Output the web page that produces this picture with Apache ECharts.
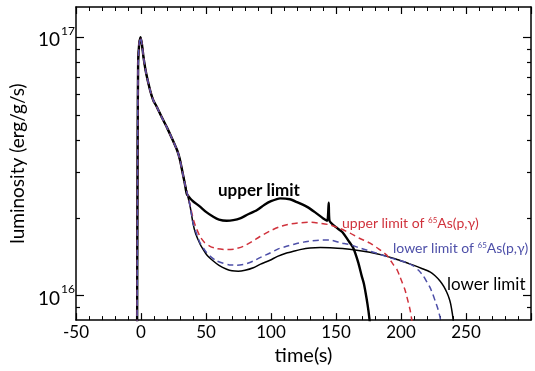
<!DOCTYPE html>
<html>
<head>
<meta charset="utf-8">
<script src="https://cdn.jsdelivr.net/npm/echarts@6/dist/echarts.min.js"></script>
<style>html,body{margin:0;padding:0;background:#fff}#c{width:535px;height:371px}</style>
</head>
<body>
<div id="c"></div>
<script>
// luminosity values in units of 1e16 erg/g/s
const commonT = [-3.0, -2.6, -2.2, -1.3, -0.3, 0.8, 2, 4, 7, 9.5, 12, 16, 20, 24.8, 28, 30, 32, 33.8];
const commonL = [0.70, 3.98, 7.94, 9.55, 10.0, 9.33, 8.32, 7.24, 6.24, 5.69, 5.40, 4.90, 4.47, 3.96, 3.63, 3.35, 2.99, 2.70];

const upperT = [35.2, 38, 40, 45.4, 50, 55.6, 60, 65.9, 71, 76.2, 82, 89, 95, 100, 107, 114.6, 120, 127.4, 134, 140.2, 143.3, 144.4, 145.0, 150, 155, 160, 163.3, 167.2, 169.8, 171.5, 173.5, 175, 176.2];
const upperL = [2.48, 2.37, 2.32, 2.21, 2.11, 2.02, 1.97, 1.95, 1.96, 1.99, 2.06, 2.14, 2.25, 2.32, 2.38, 2.36, 2.30, 2.21, 2.10, 1.99, 1.95, 2.29, 1.95, 1.84, 1.76, 1.62, 1.53, 1.34, 1.19, 1.11, 0.977, 0.871, 0.776];

const lowerT = [36, 38, 40, 42, 45.4, 47.9, 51, 55.6, 60, 65.9, 70, 74.8, 80, 86.4, 92, 99.2, 105, 112, 118, 122.3, 130, 138, 145.4, 155, 165.9, 176, 186, 196, 204.4, 210, 216, 222.3, 226, 230, 233, 235.2, 237, 238.2, 239.5, 240.5];
const lowerL = [2.427, 2.188, 1.905, 1.738, 1.585, 1.507, 1.429, 1.361, 1.309, 1.265, 1.247, 1.242, 1.253, 1.282, 1.324, 1.371, 1.419, 1.462, 1.489, 1.507, 1.528, 1.535, 1.531, 1.521, 1.500, 1.472, 1.435, 1.387, 1.340, 1.309, 1.274, 1.236, 1.197, 1.140, 1.084, 1.030, 0.977, 0.929, 0.851, 0.776];

const redT = [36, 38, 40, 42, 45.4, 49, 53.1, 58, 65.9, 72, 78.7, 85, 91.5, 99, 106.9, 114.6, 122.3, 130, 138, 145.4, 153, 160.8, 168, 176.2, 183, 189, 194.1, 197, 199.2, 201, 203.1, 205.6, 207, 208.5];
const redL = [2.443, 2.213, 1.995, 1.854, 1.694, 1.603, 1.552, 1.521, 1.507, 1.514, 1.552, 1.614, 1.694, 1.778, 1.849, 1.892, 1.914, 1.923, 1.905, 1.879, 1.820, 1.746, 1.667, 1.596, 1.514, 1.435, 1.318, 1.259, 1.183, 1.122, 1.052, 0.942, 0.881, 0.794];

const blueT = [36, 38, 40, 42, 45.4, 49.2, 53.1, 58, 63.3, 68, 73.6, 80, 86.4, 92.8, 99.2, 105.6, 112, 118.5, 125, 131.3, 138, 145.4, 153, 160.8, 168, 176.2, 184, 191.5, 199.2, 204.4, 209.5, 213.5, 217.2, 220, 222.3, 224.5, 226.2, 228.3, 230, 231];
const blueL = [2.443, 2.203, 1.914, 1.778, 1.600, 1.496, 1.422, 1.365, 1.334, 1.315, 1.312, 1.324, 1.361, 1.413, 1.462, 1.517, 1.552, 1.585, 1.611, 1.629, 1.641, 1.641, 1.603, 1.574, 1.531, 1.486, 1.445, 1.400, 1.368, 1.343, 1.303, 1.253, 1.191, 1.127, 1.076, 1.012, 0.957, 0.891, 0.826, 0.776];

const xTicks = [-50, 0, 50, 100, 150, 200, 250];
const yMajor = [1e16, 1e17];
const yMinor = [9e15, 2e16, 3e16, 4e16, 5e16, 6e16, 7e16, 8e16, 9e16];
const yMinVal = 8.04e15, yMaxVal = 1.31e17;

const seriesNames = ['upper limit', 'lower limit', 'upper limit of 65As(p,γ)', 'lower limit of 65As(p,γ)'];

const FONT = 'Lato';
const RED = '#d0323c', BLUE = '#4d4fa8';
const lg = v => Math.log10(v);
function build(ts, ls) {
  const t = commonT.concat(ts), l = commonL.concat(ls);
  return t.map((x, i) => [x, lg(l[i] * 1e16)]);
}

const chart = echarts.init(document.getElementById('c'), null, {renderer: 'canvas'});
const yMin = lg(yMinVal), yMax = lg(yMaxVal);
const majorVals = yMajor.map(lg), minorVals = yMinor.map(lg);

function xAx(pos, labels) {
  return {
    type: 'value', position: pos, min: -50, max: 300, interval: 50,
    axisLine: {show: true, onZero: false, lineStyle: {color: '#000', width: 1.5}},
    axisTick: {show: true, inside: true, length: 7, lineStyle: {color: '#000', width: 1.2}},
    minorTick: {show: true, splitNumber: 5, length: 4, lineStyle: {color: '#000', width: 1}},
    splitLine: {show: false}, minorSplitLine: {show: false},
    axisLabel: {show: labels, margin: 4, color: '#000', fontFamily: FONT, fontSize: 17,
      formatter: v => (xTicks.indexOf(v) >= 0 ? String(v) : '')},
    name: labels ? 'time(s)' : '', nameLocation: 'middle', nameGap: 22,
    nameTextStyle: {color: '#000', fontFamily: FONT, fontSize: 20}
  };
}
function yAx(pos, major, labels) {
  return {
    type: 'value', position: pos, min: yMin, max: yMax,
    axisLine: {show: major, onZero: false, lineStyle: {color: '#000', width: 1.5}},
    axisTick: {show: true, inside: true, length: major ? 8 : 4, customValues: major ? majorVals : minorVals,
      lineStyle: {color: '#000', width: 1.2}},
    splitLine: {show: false},
    axisLabel: {show: labels, customValues: majorVals, margin: 1,
      formatter: v => '{b|10}{s|' + Math.round(v) + '}',
      rich: {b: {fontFamily: FONT, fontSize: 19, color: '#000', padding: [6, 0, 0, 0]},
             s: {fontFamily: FONT, fontSize: 12, color: '#000', verticalAlign: 'top', padding: [0, 0, 0, 1]}}},
    name: labels ? 'luminosity (erg/g/s)' : '', nameLocation: 'middle', nameGap: 44, nameRotate: 90,
    nameTextStyle: {color: '#000', fontFamily: FONT, fontSize: 19}
  };
}

const option = {
  animation: false,
  backgroundColor: '#fff',
  grid: {left: 76, right: 4, top: 7, bottom: 46, containLabel: false},
  xAxis: [xAx('bottom', true), xAx('top', false)],
  yAxis: [yAx('left', true, true), yAx('left', false, false), yAx('right', true, false), yAx('right', false, false)],
  series: [
    {name: seriesNames[0], type: 'line', data: build(upperT, upperL), showSymbol: false, smooth: 0.2, clip: true,
      lineStyle: {color: '#000', width: 2.4}, z: 2},
    {name: seriesNames[1], type: 'line', data: build(lowerT, lowerL), showSymbol: false, smooth: 0.2, clip: true,
      lineStyle: {color: '#000', width: 1.5}, z: 3},
    {name: seriesNames[2], type: 'line', data: build(redT, redL), showSymbol: false, smooth: 0.2, clip: true,
      lineStyle: {color: RED, width: 1.5, type: [6, 4]}, z: 4},
    {name: seriesNames[3], type: 'line', data: build(blueT, blueL), showSymbol: false, smooth: 0.2, clip: true,
      lineStyle: {color: BLUE, width: 1.5, type: [6, 4]}, z: 5}
  ],
  graphic: [
    {type: 'text', left: 218, top: 182, z: 10, style: {text: 'upper limit', fill: '#000', fontFamily: FONT, fontSize: 17, fontWeight: 'bold'}},
    {type: 'text', left: 342, top: 216, z: 10, style: {text: 'upper limit of {s|65}As(p,γ)', fill: RED, fontFamily: FONT, fontSize: 14,
      rich: {s: {fontFamily: FONT, fontSize: 8, fill: RED, verticalAlign: 'top'}}}},
    {type: 'text', left: 393, top: 241, z: 10, style: {text: 'lower limit of {s|65}As(p,γ)', fill: BLUE, fontFamily: FONT, fontSize: 14,
      rich: {s: {fontFamily: FONT, fontSize: 8, fill: BLUE, verticalAlign: 'top'}}}},
    {type: 'text', left: 447, top: 276, z: 10, style: {text: 'lower limit', fill: '#000', fontFamily: FONT, fontSize: 17}}
  ]
};
chart.setOption(option);
</script>
</body>
</html>
